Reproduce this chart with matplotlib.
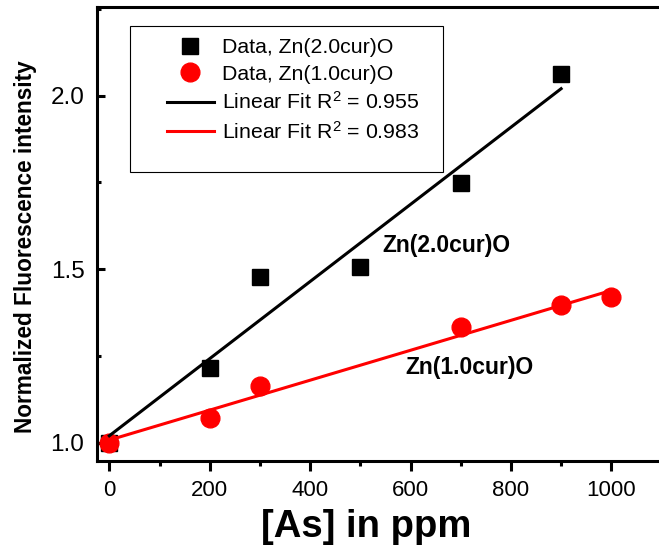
import numpy as np
import matplotlib
matplotlib.use('Agg')
import matplotlib.pyplot as plt
from matplotlib.patches import Rectangle
from matplotlib.ticker import MultipleLocator

plt.rcParams['font.family'] = ['Liberation Sans', 'DejaVu Sans']
plt.rcParams['mathtext.fontset'] = 'custom'
plt.rcParams['mathtext.rm'] = 'Liberation Sans'
plt.rcParams['mathtext.it'] = 'Liberation Sans'

# data
x_zn2 = [0, 200, 300, 500, 700, 900]
y_zn2 = [1.0, 1.217, 1.477, 1.506, 1.749, 2.061]
x_zn1 = [0, 200, 300, 700, 900, 1000]
y_zn1 = [1.0, 1.072, 1.165, 1.333, 1.396, 1.419]
r2_zn2 = 0.955
r2_zn1 = 0.983

fig = plt.figure(figsize=(6.59, 5.52), dpi=100)
ax = fig.add_axes([97/659, 91/552, 562/659, 454/552])

sq, = ax.plot(x_zn2, y_zn2, 's', color='black', markersize=11.5, zorder=3,
              label='Data, Zn(2.0cur)O')
ci, = ax.plot(x_zn1, y_zn1, 'o', color='red', markersize=13.5, zorder=4,
              label='Data, Zn(1.0cur)O')

# linear fits
p2 = np.polyfit(x_zn2, y_zn2, 1)
p1 = np.polyfit(x_zn1, y_zn1, 1)
xf2 = np.array([min(x_zn2), max(x_zn2)])
xf1 = np.array([min(x_zn1), max(x_zn1)])
l2, = ax.plot(xf2, np.polyval(p2, xf2), '-', color='black', lw=2.2, zorder=5,
              label='Linear Fit R$^2$ = %.3f' % r2_zn2)
l1, = ax.plot(xf1, np.polyval(p1, xf1), '-', color='red', lw=2.2, zorder=6,
              label='Linear Fit R$^2$ = %.3f' % r2_zn1)

ax.text(543, 1.5685, 'Zn(2.0cur)O', fontsize=16.5, fontweight='bold', va='center')
ax.text(589, 1.218, 'Zn(1.0cur)O', fontsize=16.5, fontweight='bold', va='center')

ax.set_xlim(-24.5, 1095)
ax.set_ylim(0.948, 2.255)

ax.xaxis.set_major_locator(MultipleLocator(200))
ax.xaxis.set_minor_locator(MultipleLocator(100))
ax.yaxis.set_major_locator(MultipleLocator(0.5))
ax.yaxis.set_minor_locator(MultipleLocator(0.25))
ax.yaxis.set_major_formatter(matplotlib.ticker.FormatStrFormatter('%.1f'))

ax.tick_params(axis='x', which='major', direction='out', length=7, width=2.2,
               labelsize=16, pad=7)
ax.tick_params(axis='x', which='minor', direction='out', length=3.5, width=2.2)
ax.tick_params(axis='y', which='major', direction='in', length=6, width=2.2,
               labelsize=17.5, pad=9)
ax.tick_params(axis='y', which='minor', direction='in', length=3, width=2.2)

for s in ['left', 'bottom', 'top']:
    ax.spines[s].set_linewidth(2.2)
ax.spines['right'].set_visible(False)

ax.set_xlabel('[As] in ppm', fontsize=27.5, fontweight='bold')
ax.xaxis.set_label_coords(269/562, -(509-461)/454)
ax.set_ylabel('Normalized Fluorescence intensity', fontsize=16.3,
              fontweight='bold')
ax.yaxis.set_label_coords(-(97-37)/562, (461-247)/454)

# legend box
ax.add_patch(Rectangle((33/562, 289/454), 313/562, 146/454, transform=ax.transAxes,
                       fill=False, edgecolor='black', lw=0.8, zorder=7))
leg = ax.legend(handles=[sq, ci, l2, l1], loc='upper left', frameon=False,
                bbox_to_anchor=(167/659, 1 - 38/552), bbox_transform=fig.transFigure,
                borderpad=0, borderaxespad=0, fontsize=15.3, handlelength=2.2,
                handletextpad=0.38, labelspacing=0.36)
leg.set_zorder(8)

fig.savefig('out.png', dpi=100)
